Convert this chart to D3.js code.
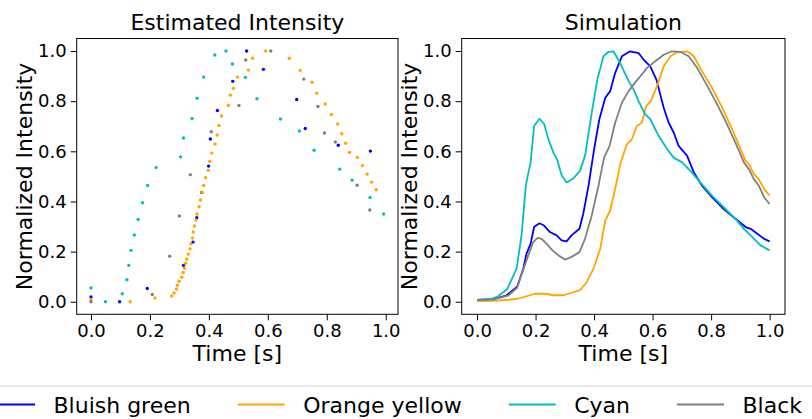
<!DOCTYPE html>
<html>
<head>
<meta charset="utf-8">
<script src="https://cdn.jsdelivr.net/npm/d3@7"></script>
<style>
  body { margin: 0; background: #fff; }
  svg { display: block; font-family: "DejaVu Sans", sans-serif; }
</style>
</head>
<body>
<svg id="chart" width="812" height="419"></svg>
<script>
// ------------------------------------
// Series names / colours
// ------------------------------------
const seriesNames = ["Bluish green", "Orange yellow", "Cyan", "Black"];
const seriesColors = ["#0000ff", "#ffa500", "#00bfbf", "#808080"];

// ------------------------------------
// Estimated intensity (scatter) : time, value
// ------------------------------------
const estBlueT = [0, 0.097, 0.191, 0.314, 0.346, 0.359, 0.376, 0.399, 0.405, 0.429, 0.481, 0.528, 0.585, 0.698, 0.727, 0.839, 0.948];
const estBlueV = [0.019, 0, 0.053, 0.145, 0.238, 0.335, 0.436, 0.541, 0.649, 0.763, 0.879, 1.0, 0.927, 0.807, 0.691, 0.624, 0.601];

const estOrangeT = [0, 0.133, 0.217, 0.274, 0.282, 0.290, 0.293, 0.299, 0.308, 0.313, 0.317, 0.321, 0.325, 0.330, 0.336, 0.339, 0.344, 0.347, 0.351, 0.356, 0.360, 0.367, 0.371, 0.377, 0.382, 0.389, 0.398, 0.403, 0.410, 0.421, 0.428, 0.434, 0.443, 0.466, 0.473, 0.483, 0.497, 0.534, 0.548, 0.593, 0.673, 0.710, 0.750, 0.766, 0.795, 0.816, 0.837, 0.851, 0.864, 0.877, 0.904, 0.921, 0.937, 0.952, 0.968];
const estOrangeV = [0.008, 0, 0.015, 0.023, 0.035, 0.051, 0.066, 0.082, 0.098, 0.117, 0.134, 0.154, 0.170, 0.190, 0.211, 0.231, 0.254, 0.278, 0.302, 0.326, 0.350, 0.379, 0.406, 0.437, 0.464, 0.495, 0.525, 0.560, 0.593, 0.629, 0.665, 0.703, 0.741, 0.783, 0.824, 0.851, 0.896, 0.924, 0.971, 1.0, 0.971, 0.923, 0.876, 0.832, 0.789, 0.747, 0.709, 0.670, 0.632, 0.596, 0.576, 0.543, 0.509, 0.477, 0.447];

const estCyanT = [0, 0.049, 0.106, 0.122, 0.128, 0.136, 0.147, 0.160, 0.175, 0.192, 0.221, 0.304, 0.314, 0.343, 0.360, 0.382, 0.420, 0.458, 0.480, 0.524, 0.563, 0.643, 0.707, 0.757, 0.844, 0.886, 0.947, 0.993];
const estCyanV = [0.055, 0, 0.032, 0.088, 0.145, 0.205, 0.266, 0.328, 0.395, 0.464, 0.535, 0.578, 0.653, 0.731, 0.812, 0.896, 0.984, 1.0, 0.948, 0.895, 0.810, 0.729, 0.681, 0.604, 0.529, 0.485, 0.416, 0.350];

const estBlackT = [0, 0.208, 0.267, 0.300, 0.337, 0.408, 0.502, 0.525, 0.610, 0.722, 0.770, 0.792, 0.829, 0.903, 0.946];
const estBlackV = [0, 0.029, 0.182, 0.342, 0.507, 0.678, 0.783, 0.964, 1.0, 0.888, 0.779, 0.673, 0.637, 0.465, 0.366];

// ------------------------------------
// Simulation (lines) : time, value
// ------------------------------------
const simBlueT = [0, 0.055, 0.101, 0.137, 0.158, 0.169, 0.183, 0.195, 0.213, 0.229, 0.249, 0.272, 0.289, 0.306, 0.323, 0.350, 0.363, 0.381, 0.400, 0.418, 0.438, 0.455, 0.472, 0.495, 0.523, 0.552, 0.569, 0.592, 0.613, 0.638, 0.655, 0.672, 0.689, 0.718, 0.741, 0.769, 0.803, 0.843, 0.883, 0.918, 0.935, 0.958, 0.981, 1.0];
const simBlueV = [0.007, 0.010, 0.026, 0.060, 0.132, 0.192, 0.231, 0.298, 0.313, 0.304, 0.278, 0.265, 0.245, 0.241, 0.265, 0.291, 0.351, 0.463, 0.608, 0.728, 0.813, 0.840, 0.913, 0.979, 0.999, 0.992, 0.966, 0.939, 0.886, 0.774, 0.714, 0.675, 0.622, 0.582, 0.516, 0.463, 0.417, 0.370, 0.331, 0.298, 0.291, 0.271, 0.251, 0.241];

const simOrangeT = [0, 0.078, 0.135, 0.169, 0.198, 0.232, 0.261, 0.295, 0.323, 0.352, 0.375, 0.398, 0.421, 0.438, 0.455, 0.472, 0.491, 0.512, 0.529, 0.546, 0.563, 0.578, 0.594, 0.615, 0.638, 0.661, 0.683, 0.718, 0.741, 0.769, 0.803, 0.838, 0.872, 0.901, 0.918, 0.929, 0.946, 0.963, 0.981, 1.0];
const simOrangeV = [0.003, 0.005, 0.011, 0.022, 0.032, 0.032, 0.026, 0.026, 0.036, 0.046, 0.079, 0.132, 0.212, 0.324, 0.364, 0.450, 0.556, 0.628, 0.648, 0.701, 0.714, 0.780, 0.800, 0.860, 0.939, 0.979, 0.995, 0.999, 0.979, 0.919, 0.853, 0.774, 0.688, 0.608, 0.562, 0.549, 0.509, 0.489, 0.450, 0.423];

const simCyanT = [0, 0.043, 0.072, 0.103, 0.135, 0.152, 0.167, 0.183, 0.195, 0.213, 0.229, 0.244, 0.261, 0.274, 0.289, 0.306, 0.329, 0.352, 0.369, 0.392, 0.411, 0.432, 0.449, 0.466, 0.489, 0.518, 0.535, 0.552, 0.575, 0.592, 0.621, 0.650, 0.672, 0.701, 0.729, 0.763, 0.803, 0.843, 0.878, 0.912, 0.941, 0.969, 1.0];
const simCyanV = [0.007, 0.009, 0.022, 0.050, 0.132, 0.265, 0.466, 0.556, 0.701, 0.730, 0.710, 0.648, 0.595, 0.566, 0.505, 0.476, 0.492, 0.522, 0.582, 0.754, 0.886, 0.979, 0.997, 0.999, 0.952, 0.880, 0.847, 0.800, 0.747, 0.728, 0.661, 0.608, 0.575, 0.556, 0.522, 0.476, 0.423, 0.377, 0.337, 0.291, 0.258, 0.225, 0.205];

const simBlackT = [0, 0.055, 0.106, 0.137, 0.155, 0.175, 0.192, 0.207, 0.221, 0.238, 0.258, 0.278, 0.301, 0.323, 0.350, 0.369, 0.392, 0.415, 0.434, 0.453, 0.472, 0.495, 0.518, 0.541, 0.558, 0.581, 0.609, 0.638, 0.666, 0.695, 0.723, 0.752, 0.781, 0.815, 0.849, 0.883, 0.912, 0.929, 0.946, 0.963, 0.981, 1.0];
const simBlackV = [0.007, 0.009, 0.024, 0.056, 0.119, 0.185, 0.238, 0.255, 0.251, 0.231, 0.205, 0.185, 0.168, 0.179, 0.198, 0.251, 0.344, 0.463, 0.575, 0.622, 0.714, 0.794, 0.840, 0.876, 0.899, 0.933, 0.959, 0.985, 0.999, 0.997, 0.979, 0.933, 0.873, 0.800, 0.721, 0.635, 0.556, 0.529, 0.489, 0.463, 0.417, 0.390];

// ticks
const tickValues = [0, 0.2, 0.4, 0.6, 0.8, 1.0];

const estSeries = [[estBlueT, estBlueV], [estOrangeT, estOrangeV], [estCyanT, estCyanV], [estBlackT, estBlackV]];
const simSeries = [[simBlueT, simBlueV], [simOrangeT, simOrangeV], [simCyanT, simCyanV], [simBlackT, simBlackV]];

const zip = (t, v) => t.map((d, i) => ({ t: d, v: v[i] }));

const svg = d3.select("#chart");

// ------------------------------------
// Panels
// ------------------------------------
const panels = [
  { title: "Estimated Intensity", left: 76.7, right: 398, xDom: [-0.0485, 1.0417], kind: "scatter" },
  { title: "Simulation", left: 461.7, right: 785, xDom: [-0.0525, 1.0525], kind: "line" }
];
const plotTop = 38.5, plotBottom = 314.3;

panels.forEach(p => {
  const x = d3.scaleLinear().domain(p.xDom).range([p.left, p.right]);
  const y = d3.scaleLinear().domain([-0.05, 1.05]).range([plotBottom, plotTop]);
  const g = svg.append("g");

  if (p.kind === "scatter") {
    estSeries.forEach(([t, v], i) => {
      g.append("g").selectAll("circle")
        .data(zip(t, v))
        .join("circle")
        .attr("cx", d => x(d.t))
        .attr("cy", d => y(d.v))
        .attr("r", 1.7)
        .attr("fill", seriesColors[i]);
    });
  } else {
    const line = d3.line().x(d => x(d.t)).y(d => y(d.v));
    simSeries.forEach(([t, v], i) => {
      g.append("path")
        .datum(zip(t, v))
        .attr("fill", "none")
        .attr("stroke", seriesColors[i])
        .attr("stroke-width", 1.8)
        .attr("stroke-linejoin", "round")
        .attr("d", line);
    });
  }

  // X axis
  const xa = svg.append("g")
    .attr("transform", `translate(0,${plotBottom})`)
    .call(d3.axisBottom(x).tickValues(tickValues).tickFormat(d3.format(".1f")).tickSize(6).tickPadding(4));
  // Y axis
  const ya = svg.append("g")
    .attr("transform", `translate(${p.left},0)`)
    .call(d3.axisLeft(y).tickValues(tickValues).tickFormat(d3.format(".1f")).tickSize(6).tickPadding(4));
  [xa, ya].forEach(a => {
    a.select(".domain").remove();
    a.selectAll("text").style("font-size", "18px").attr("fill", "#000")
      .style("font-family", "DejaVu Sans");
    a.selectAll("line").attr("stroke", "#000").attr("stroke-width", 1);
  });

  // frame
  svg.append("rect")
    .attr("x", p.left).attr("y", plotTop)
    .attr("width", p.right - p.left).attr("height", plotBottom - plotTop)
    .attr("fill", "none").attr("stroke", "#000").attr("stroke-width", 1);

  // Title
  svg.append("text")
    .attr("x", (p.left + p.right) / 2).attr("y", 29.5)
    .attr("text-anchor", "middle").style("font-size", "22px")
    .text(p.title);

  // X label
  svg.append("text")
    .attr("x", (p.left + p.right) / 2).attr("y", 361)
    .attr("text-anchor", "middle").style("font-size", "22px")
    .text("Time [s]");

  // Y label
  svg.append("text")
    .attr("transform", `translate(${p.left - 45},${(plotTop + plotBottom) / 2}) rotate(-90)`)
    .attr("text-anchor", "middle").style("font-size", "22px")
    .text("Normalized Intensity");
});

// ------------------------------------
// Legend
// ------------------------------------
svg.append("rect")
  .attr("x", -10).attr("y", 386).attr("width", 832).attr("height", 60)
  .attr("rx", 4).attr("fill", "#fff").attr("stroke", "#d0d0d0").attr("stroke-width", 1);

let lx = -12;
seriesNames.forEach((name, i) => {
  const lg = svg.append("g");
  lg.append("line")
    .attr("x1", lx).attr("x2", lx + 47).attr("y1", 404.5).attr("y2", 404.5)
    .attr("stroke", seriesColors[i]).attr("stroke-width", 1.8);
  const txt = lg.append("text")
    .attr("x", lx + 47 + 18.5).attr("y", 412.5)
    .style("font-size", "22px").text(name);
  const w = txt.node().getComputedTextLength();
  lx = lx + 47 + 18.5 + w + 47;
});
</script>
</body>
</html>
